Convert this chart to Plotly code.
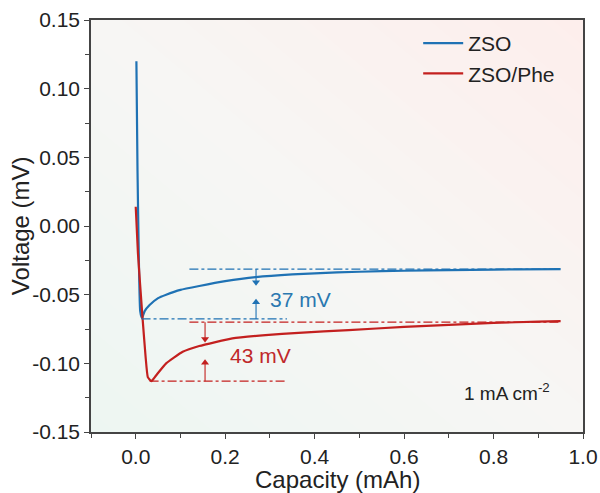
import plotly.graph_objects as go

# ---- data ----
zso_x = [0.0015, 0.004, 0.010, 0.014, 0.020, 0.031, 0.050, 0.068, 0.100, 0.142, 0.200, 0.268,
         0.350, 0.450, 0.550, 0.650, 0.750, 0.850, 0.950]
zso_y = [0.120, 0.040, -0.062, -0.067, -0.062, -0.0576, -0.0525, -0.0500, -0.0465, -0.0437,
         -0.0402, -0.0372, -0.0352, -0.0338, -0.0329, -0.0323, -0.0319, -0.0316, -0.0314]

phe_x = [0.000, 0.005, 0.015, 0.022, 0.027, 0.035, 0.045, 0.068, 0.105, 0.142, 0.216, 0.290,
         0.364, 0.476, 0.600, 0.700, 0.800, 0.900, 0.950]
phe_y = [0.014, -0.020, -0.066, -0.095, -0.110, -0.113, -0.109, -0.100, -0.0916, -0.0874,
         -0.0818, -0.0794, -0.0778, -0.0758, -0.0735, -0.0720, -0.0706, -0.0696, -0.0692]

# reference levels: (y, x0, x1)
zso_levels = [(-0.0314, 0.12, 0.947), (-0.0677, 0.013, 0.338)]
phe_levels = [(-0.0700, 0.120, 0.947), (-0.1130, 0.031, 0.335)]

# gap arrows: (x, from_y, head_y, direction)
zso_arrows = [(0.269, -0.0314, -0.0410, "down"), (0.269, -0.0677, -0.0555, "up")]
phe_arrows = [(0.155, -0.0700, -0.0823, "down"), (0.155, -0.1130, -0.0995, "up")]

labels = [("37 mV", 0.368, -0.0535, "#2a78b0"), ("43 mV", 0.279, -0.0945, "#c0282a")]

x_ticks = [0.0, 0.2, 0.4, 0.6, 0.8, 1.0]
y_ticks = [-0.15, -0.10, -0.05, 0.00, 0.05, 0.10, 0.15]

BLUE = "#1f72b4"
RED = "#c3201f"
FONT = "Liberation Sans, Arial, sans-serif"

fig = go.Figure()

# soft gradient background
fig.add_trace(go.Heatmap(
    x=[-0.1, 1.0], y=[-0.15, 0.15], z=[[0, 0.5], [0.5, 1]],
    colorscale=[[0, "#edf6f2"], [0.5, "#f7f6f4"], [1, "#fdeeec"]],
    zsmooth="best", showscale=False, hoverinfo="skip", showlegend=False))

fig.add_trace(go.Scatter(x=zso_x, y=zso_y, mode="lines", name="ZSO",
                         line=dict(color=BLUE, width=2.2, shape="spline", smoothing=0.4)))
fig.add_trace(go.Scatter(x=phe_x, y=phe_y, mode="lines", name="ZSO/Phe",
                         line=dict(color=RED, width=2.2, shape="spline", smoothing=0.4)))

for levels, col in ((zso_levels, BLUE), (phe_levels, RED)):
    for (yv, x0, x1) in levels:
        fig.add_shape(type="line", x0=x0, x1=x1, y0=yv, y1=yv, xref="x", yref="y",
                      line=dict(color=col, width=1.3, dash="dashdot"))

for arrows, col in ((zso_arrows, BLUE), (phe_arrows, RED)):
    for (xv, y0, y1, d) in arrows:
        fig.add_shape(type="line", x0=xv, x1=xv, y0=y0, y1=y1, xref="x", yref="y",
                      line=dict(color=col, width=1.1))
    fig.add_trace(go.Scatter(
        x=[a[0] for a in arrows], y=[a[2] for a in arrows], mode="markers",
        marker=dict(symbol=["triangle-down" if a[3] == "down" else "triangle-up" for a in arrows],
                    size=7, color=col, line=dict(width=0)),
        showlegend=False, hoverinfo="skip"))

for (t, xv, yv, col) in labels:
    fig.add_annotation(x=xv, y=yv, xref="x", yref="y", text=t, showarrow=False,
                       font=dict(size=21, color=col, family=FONT))

fig.add_annotation(x=0.831, y=-0.121, xref="x", yref="y", text="1 mA cm<sup>-2</sup>",
                   showarrow=False, font=dict(size=19, color="#222", family=FONT))

# axis titles
fig.add_annotation(x=-0.144, y=0.5, xref="paper", yref="paper", text="Voltage (mV)",
                   textangle=-90, showarrow=False, xanchor="center", yanchor="middle",
                   font=dict(size=24, color="#222", family=FONT))
fig.add_annotation(x=0.5, y=-0.115, xref="paper", yref="paper", text="Capacity (mAh)",
                   showarrow=False, xanchor="center", yanchor="middle",
                   font=dict(size=24, color="#222", family=FONT))

axis_common = dict(showline=True, linecolor="#444", linewidth=1.5, mirror=True,
                   ticks="outside", ticklen=5, tickwidth=1.3, tickcolor="#444",
                   showgrid=False, zeroline=False, automargin=False,
                   tickfont=dict(size=21, color="#222", family=FONT))

fig.update_xaxes(range=[-0.1, 1.0], tickvals=x_ticks, ticktext=[f"{v:.1f}" for v in x_ticks],
                 minor=dict(ticks="outside", ticklen=4, tickwidth=1.2, tickcolor="#444", dtick=0.1),
                 **axis_common)
fig.update_yaxes(range=[-0.15, 0.15], tickvals=y_ticks, ticktext=[f"{v:.2f}" for v in y_ticks],
                 minor=dict(ticks="outside", ticklen=4, tickwidth=1.2, tickcolor="#444",
                            tick0=-0.125, dtick=0.05),
                 **axis_common)

fig.update_layout(
    width=600, height=493,
    margin=dict(l=91, r=17, t=20, b=61),
    paper_bgcolor="white", plot_bgcolor="#f6f6f4",
    font=dict(family=FONT, color="#222"),
    legend=dict(x=0.665, y=0.993, xanchor="left", yanchor="top", bgcolor="rgba(0,0,0,0)",
                font=dict(size=21, family=FONT, color="#222"), tracegroupgap=0,
                itemwidth=40),
)

fig.write_html("out.html")
